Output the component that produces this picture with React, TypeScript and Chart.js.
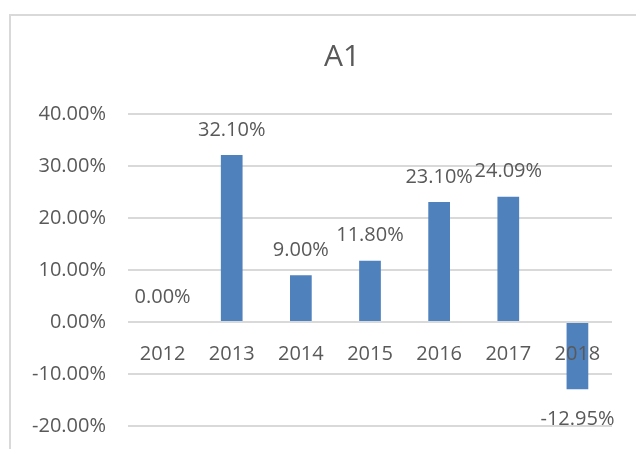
import React, { useEffect, useRef } from "react";
import { Chart, registerables } from "chart.js";

Chart.register(...registerables);

const categories = ["2012", "2013", "2014", "2015", "2016", "2017", "2018"];
const values = [0.0, 32.1, 9.0, 11.8, 23.1, 24.09, -12.95];
const yTicks = [40, 30, 20, 10, 0, -10, -20];
const chartTitle = "A1";

const FONT = "'Open Sans', 'Noto Sans', sans-serif";
const TEXT = "#595959";
const GRID = "#D9D9D9";
const BAR = "#4F81BD";

const fmt = (v: number) => v.toFixed(2) + "%";

const framePlugin = {
  id: "frame",
  beforeDraw(chart: any) {
    const ctx = chart.ctx;
    ctx.save();
    ctx.fillStyle = "#ffffff";
    ctx.fillRect(0, 0, chart.width, chart.height);
    ctx.strokeStyle = GRID;
    ctx.lineWidth = 2;
    ctx.beginPath();
    ctx.moveTo(10, chart.height);
    ctx.lineTo(10, 15);
    ctx.lineTo(chart.width, 15);
    ctx.stroke();
    ctx.restore();
  },
};

const labelPlugin = {
  id: "barLabels",
  afterDatasetsDraw(chart: any) {
    const ctx = chart.ctx;
    const meta = chart.getDatasetMeta(0);
    ctx.save();
    ctx.font = `20px ${FONT}`;
    ctx.fillStyle = TEXT;
    ctx.textAlign = "center";
    ctx.textBaseline = "middle";
    meta.data.forEach((el: any, i: number) => {
      const v = values[i];
      const y = v >= 0 ? el.y - 25 : el.y + 30;
      ctx.fillText(fmt(v), el.x, y);
    });
    ctx.restore();
  },
};

export default function App() {
  const ref = useRef<HTMLCanvasElement | null>(null);
  useEffect(() => {
    if (!ref.current) return;
    const chart = new Chart(ref.current, {
      type: "bar",
      data: {
        labels: categories,
        datasets: [
          {
            data: values,
            backgroundColor: BAR,
            borderWidth: 0,
            categoryPercentage: 1,
            barPercentage: 0.314,
            yAxisID: "y",
          },
        ],
      },
      options: {
        animation: false,
        responsive: false,
        devicePixelRatio: 1,
        layout: { padding: { left: 0, right: 0, top: 0, bottom: 23 } },
        plugins: {
          legend: { display: false },
          tooltip: { enabled: false },
          title: {
            display: true,
            text: chartTitle,
            color: TEXT,
            font: { family: FONT, size: 30, weight: "normal", lineHeight: 1.2 },
            padding: { top: 39, bottom: 39 },
          },
        },
        scales: {
          x: {
            position: { y: 0 } as any,
            grid: { display: false },
            border: { display: false },
            ticks: {
              z: 1,
              color: TEXT,
              font: { family: FONT, size: 20 },
              padding: 12,
              maxRotation: 0,
              autoSkip: false,
            },
            afterFit: (scale: any) => {
              scale.height = 0;
            },
          },
          y: {
            position: "left",
            min: -20,
            max: 40,
            afterBuildTicks: (scale: any) => {
              scale.ticks = yTicks.slice().reverse().map((v) => ({ value: v }));
            },
            grid: {
              color: GRID,
              lineWidth: 2,
              drawTicks: true,
              tickLength: 22,
              tickColor: "rgba(0,0,0,0)",
            },
            border: { display: false },
            ticks: {
              color: TEXT,
              font: { family: FONT, size: 20 },
              padding: 0,
              callback: (v: any) => fmt(Number(v)),
            },
            afterFit: (scale: any) => {
              scale.width = 128;
            },
          },
          yRight: {
            position: "right",
            display: true,
            grid: { display: false },
            border: { display: false },
            ticks: { display: false },
            afterFit: (scale: any) => {
              scale.width = 72;
            },
          },
        },
      },
      plugins: [framePlugin, labelPlugin],
    });
    return () => chart.destroy();
  }, []);
  return (
    <div style={{ position: "fixed", left: 0, top: 0, width: 636, height: 449, overflow: "hidden" }}>
      <canvas ref={ref} width={684} height={449} style={{ width: 684, height: 449, display: "block" }} />
    </div>
  );
}
